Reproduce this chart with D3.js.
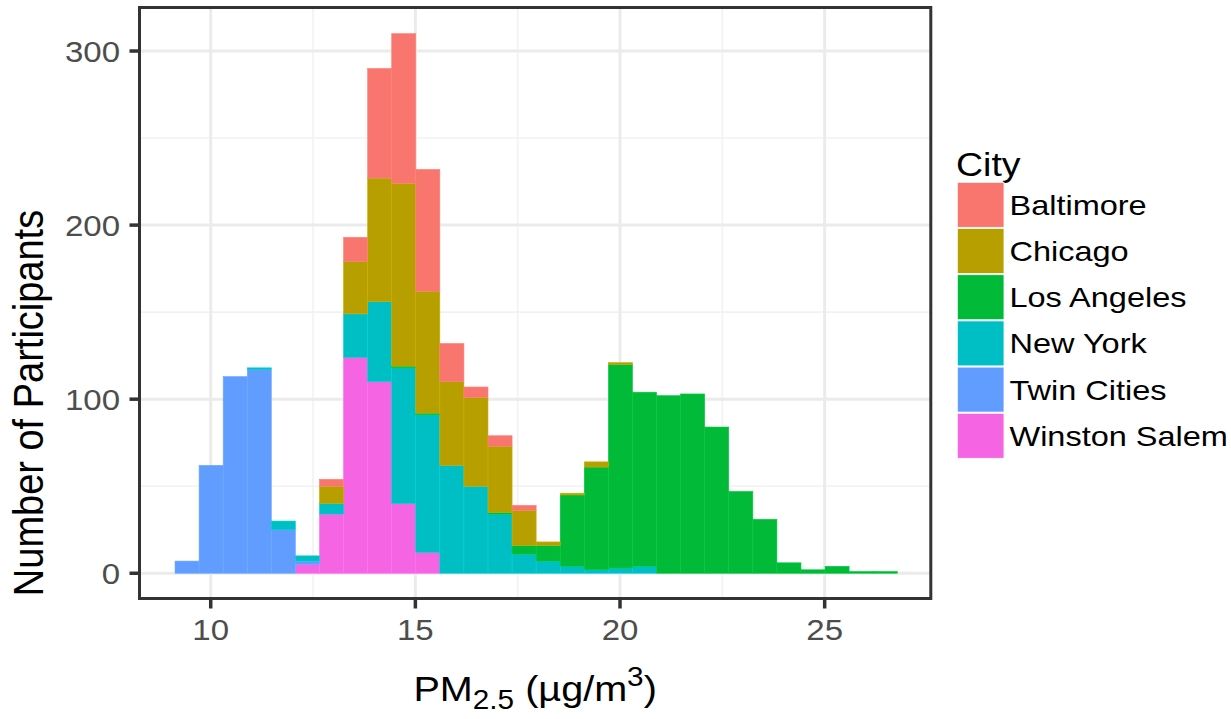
<!DOCTYPE html>
<html><head><meta charset="utf-8">
<script src="https://cdn.jsdelivr.net/npm/d3@7"></script>
<style>body{margin:0;background:#fff;} svg{display:block;font-family:"Liberation Sans",Arial,Helvetica,sans-serif;}</style>
</head><body><svg id="chart" width="1231" height="719"></svg>
<script>
// ---- data ----
const cities = ["Baltimore","Chicago","Los Angeles","New York","Twin Cities","Winston Salem"];
const cityColors = ["#F8766D","#B79F00","#00BA38","#00BFC4","#619CFF","#F564E3"];
const binStart = [9.128,9.716,10.304,10.893,11.481,12.069,12.657,13.245,13.834,14.422,
                  15.010,15.598,16.186,16.775,17.363,17.951,18.539,19.127,19.716,20.304,
                  20.892,21.480,22.068,22.657,23.245,23.833,24.421,25.009,25.598,26.186];
const binWidth = 0.588;
const baltimore    = [0,0,0,0,0,0,4,14,63,86,70,22,6,6,3,0,0,0,0,0,0,0,0,0,0,0,0,0,0,0];
const chicago      = [0,0,0,0,0,0,10,30,71,105,70,48,51,38,20,2,1,3,1,0,0,0,0,0,0,0,0,0,0,0];
const losAngeles   = [0,0,0,0,0,0,0,0,0,1,1,0,0,1,5,9,41,59,117,100,102,103,84,47,31,6,2,4,1,1];
const newYork      = [0,0,0,1,5,3,6,25,46,78,79,62,50,34,11,7,4,2,3,4,0,0,0,0,0,0,0,0,0,0];
const twinCities   = [7,62,113,117,25,2,0,0,0,0,0,0,0,0,0,0,0,0,0,0,0,0,0,0,0,0,0,0,0,0];
const winstonSalem = [0,0,0,0,0,5,34,124,110,40,12,0,0,0,0,0,0,0,0,0,0,0,0,0,0,0,0,0,0,0];
const xTicks = [10,15,20,25];
const xMinor = [12.5,17.5,22.5];
const yTicks = [0,100,200,300];
const yMinor = [50,150,250];
const xTitle = ["PM", "2.5", " (\u00B5g/m", "3", ")"];
const yTitle = "Number of Participants";
const legendTitle = "City";

// ---- build table ----
const seriesByCity = {"Baltimore":baltimore,"Chicago":chicago,"Los Angeles":losAngeles,
  "New York":newYork,"Twin Cities":twinCities,"Winston Salem":winstonSalem};
const table = binStart.map((x0,i)=>{
  const row = {x0:x0, x1:x0+binWidth};
  cities.forEach(c=>row[c]=seriesByCity[c][i]);
  return row;
});
const color = d3.scaleOrdinal().domain(cities).range(cityColors);
const stackKeys = cities.slice().reverse(); // Winston Salem at bottom
const stacked = d3.stack().keys(stackKeys)(table);

// ---- layout ----
const P = {left:139.5, right:930.8, top:7.5, bottom:598.5};
const SX = 1.1;
const svg = d3.select("#chart");
const x = d3.scaleLinear().domain([8.26,27.593]).range([P.left,P.right]);
const y = d3.scaleLinear().domain([-14.5,325]).range([P.bottom,P.top]);

svg.append("rect").attr("x",P.left).attr("y",P.top).attr("width",P.right-P.left)
  .attr("height",P.bottom-P.top).attr("fill","#fff");

const grid = svg.append("g");
grid.selectAll(".xm").data(xMinor).join("line").attr("x1",d=>x(d)).attr("x2",d=>x(d))
  .attr("y1",P.top).attr("y2",P.bottom).attr("stroke","#F2F2F2").attr("stroke-width",1.6);
grid.selectAll(".ym").data(yMinor).join("line").attr("y1",d=>y(d)).attr("y2",d=>y(d))
  .attr("x1",P.left).attr("x2",P.right).attr("stroke","#F2F2F2").attr("stroke-width",1.6);
grid.selectAll(".xM").data(xTicks).join("line").attr("x1",d=>x(d)).attr("x2",d=>x(d))
  .attr("y1",P.top).attr("y2",P.bottom).attr("stroke","#EBEBEB").attr("stroke-width",3);
grid.selectAll(".yM").data(yTicks).join("line").attr("y1",d=>y(d)).attr("y2",d=>y(d))
  .attr("x1",P.left).attr("x2",P.right).attr("stroke","#EBEBEB").attr("stroke-width",3);

// bars
const bars = svg.append("g");
stacked.forEach(layer=>{
  const col = color(layer.key);
  bars.append("g").selectAll("rect").data(layer.filter(d=>d[1]-d[0]>0)).join("rect")
    .attr("x",d=>x(d.data.x0)).attr("width",d=>x(d.data.x1)-x(d.data.x0))
    .attr("y",d=>y(d[1])).attr("height",d=>y(d[0])-y(d[1]))
    .attr("fill",col).attr("stroke",d3.color(col).brighter(0.25)).attr("stroke-width",0.6);
});

// border
svg.append("rect").attr("x",P.left).attr("y",P.top).attr("width",P.right-P.left)
  .attr("height",P.bottom-P.top).attr("fill","none").attr("stroke","#333333").attr("stroke-width",3);

// ticks
svg.append("g").selectAll("line").data(xTicks).join("line")
  .attr("x1",d=>x(d)).attr("x2",d=>x(d)).attr("y1",P.bottom).attr("y2",P.bottom+10)
  .attr("stroke","#333333").attr("stroke-width",3.5);
svg.append("g").selectAll("line").data(yTicks).join("line")
  .attr("y1",d=>y(d)).attr("y2",d=>y(d)).attr("x1",P.left-10).attr("x2",P.left)
  .attr("stroke","#333333").attr("stroke-width",3.5);

function label(px,py,str,size,anchor,fill,sx){
  const g = svg.append("g").attr("transform",`translate(${px},${py}) scale(${sx},1)`);
  return g.append("text").attr("x",0).attr("y",0).attr("text-anchor",anchor)
    .attr("font-size",size).attr("fill",fill).text(str);
}
xTicks.forEach(t=>label(x(t),640,String(t),30,"middle","#4D4D4D",SX));
yTicks.forEach(t=>label(120,y(t)+10.8,String(t),30,"end","#4D4D4D",SX));

// x title
{
  const g = svg.append("g").attr("transform",`translate(${(P.left+P.right)/2},701) scale(${SX},1)`);
  const t = g.append("text").attr("text-anchor","middle").attr("font-size",36).attr("fill","#000");
  t.append("tspan").text(xTitle[0]);
  t.append("tspan").attr("font-size",27).attr("dy",8).text(xTitle[1]);
  t.append("tspan").attr("dy",-8).text(xTitle[2]);
  t.append("tspan").attr("font-size",27).attr("dy",-15).text(xTitle[3]);
  t.append("tspan").attr("dy",15).text(xTitle[4]);
}
// y title
svg.append("g").attr("transform",`translate(43,403) scale(1.11,1) rotate(-90)`)
  .append("text").attr("text-anchor","middle").attr("font-size",38).attr("fill","#000").text(yTitle);

// legend
label(956,176,legendTitle,33.5,"start","#000",1.12);
const leg = svg.append("g");
cities.forEach((c,i)=>{
  const ky = 182.3 + i*46.2;
  leg.append("rect").attr("x",957.3).attr("y",ky).attr("width",46.7).attr("height",45)
    .attr("fill",color(c)).attr("stroke","#fff").attr("stroke-width",0.8);
  label(1009.5, ky+22.5+10, c, 28.5, "start", "#000", 1.14);
});
</script></body></html>
